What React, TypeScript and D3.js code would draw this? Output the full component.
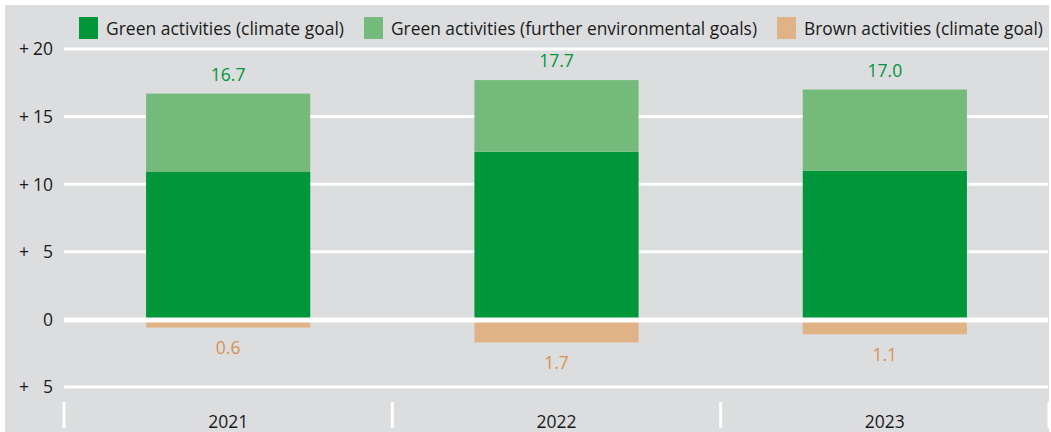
import React from "react";
import * as d3 from "d3";

const years = ["2021", "2022", "2023"];
const climateGreen = [10.9, 12.4, 11.0];
const furtherGreen = [5.8, 5.3, 6.0];
const brown = [0.6, 1.7, 1.1];
const totalLabels = ["16.7", "17.7", "17.0"];
const brownLabels = ["0.6", "1.7", "1.1"];
const yTicks = [20, 15, 10, 5, 0, -5];
const legendItems = [
  { label: "Green activities (climate goal)", color: "#00963a", x: 79, len: 238 },
  { label: "Green activities (further environmental goals)", color: "#74bb7b", x: 364, len: 366 },
  { label: "Brown activities (climate goal)", color: "#dfb386", x: 777, len: 239 },
];

const W = 1051;
const H = 432;
const BG = "#dcdddf";
const FONT = "'Open Sans', 'Noto Sans', sans-serif";

export default function App() {
  const y = d3.scaleLinear().domain([-5, 20]).range([387, 49]);
  const x = d3.scaleBand().domain(years).range([64, 1049]).padding(0);
  const bw = x.bandwidth() * 0.5;

  return (
    <svg
      width={W}
      height={H}
      style={{ position: "absolute", left: 0, top: 0, fontFamily: FONT }}
    >
      <rect x={0} y={0} width={W} height={H} fill="#fff" />
      <rect x={5} y={5} width={1044} height={H - 5} fill={BG} />

      {/* legend */}
      {legendItems.map((d) => (
        <g key={d.label}>
          <rect x={d.x} y={17} width={19} height={22} fill={d.color} />
          <text
            x={d.x + 27}
            y={35}
            fontSize={17.5}
            fill="#1a1a1a"
            textLength={d.len}
            lengthAdjust="spacingAndGlyphs"
          >
            {d.label}
          </text>
        </g>
      ))}

      {/* gridlines */}
      {yTicks.map((t) => (
        <line
          key={t}
          x1={64}
          x2={1048}
          y1={y(t)}
          y2={y(t)}
          stroke="#fff"
          strokeWidth={3}
        />
      ))}

      {/* y labels */}
      {yTicks.map((t) => (
        <g key={"l" + t}>
          {t !== 0 && (
            <text x={24} y={y(t)} dy="0.36em" fontSize={17.5} fill="#1a1a1a" textAnchor="middle">
              +
            </text>
          )}
          <text x={53} y={y(t)} dy="0.36em" fontSize={17.5} fill="#1a1a1a" textAnchor="end">
            {Math.abs(t)}
          </text>
        </g>
      ))}

      {/* bars */}
      {years.map((yr, i) => {
        const cx = (x(yr) as number) + x.bandwidth() / 2;
        const x0 = cx - bw / 2;
        const top = climateGreen[i] + furtherGreen[i];
        return (
          <g key={yr}>
            <rect
              x={x0}
              y={y(climateGreen[i])}
              width={bw}
              height={y(0) - y(climateGreen[i])}
              fill="#00963a"
            />
            <rect
              x={x0}
              y={y(top)}
              width={bw}
              height={y(climateGreen[i]) - y(top)}
              fill="#74bb7b"
            />
            <rect
              x={x0}
              y={y(0)}
              width={bw}
              height={y(-brown[i]) - y(0)}
              fill="#dfb386"
            />
            <rect x={cx - 26} y={y(top) - 28} width={52} height={24} fill={BG} />
            <text
              x={cx}
              y={y(top) - 13}
              textAnchor="middle"
              fontSize={17.5}
              fontWeight={500}
              fill="#00963a"
            >
              {totalLabels[i]}
            </text>
            <text
              x={cx}
              y={y(-brown[i]) + 26.5}
              textAnchor="middle"
              fontSize={17.5}
              fontWeight={500}
              fill="#d69252"
            >
              {brownLabels[i]}
            </text>
          </g>
        );
      })}

      {/* zero line thicker */}
      <line x1={64} x2={1048} y1={y(0) + 0.5} y2={y(0) + 0.5} stroke="#fff" strokeWidth={5} />

      {/* x axis ticks and labels */}
      {[...years.map((yr) => x(yr) as number), 1049].map((px, i) => (
        <line key={"t" + i} x1={px} x2={px} y1={402} y2={428} stroke="#fff" strokeWidth={3} />
      ))}
      {years.map((yr) => (
        <text
          key={"x" + yr}
          x={(x(yr) as number) + x.bandwidth() / 2}
          y={428}
          textAnchor="middle"
          fontSize={17.5}
          fill="#1a1a1a"
        >
          {yr}
        </text>
      ))}
    </svg>
  );
}
